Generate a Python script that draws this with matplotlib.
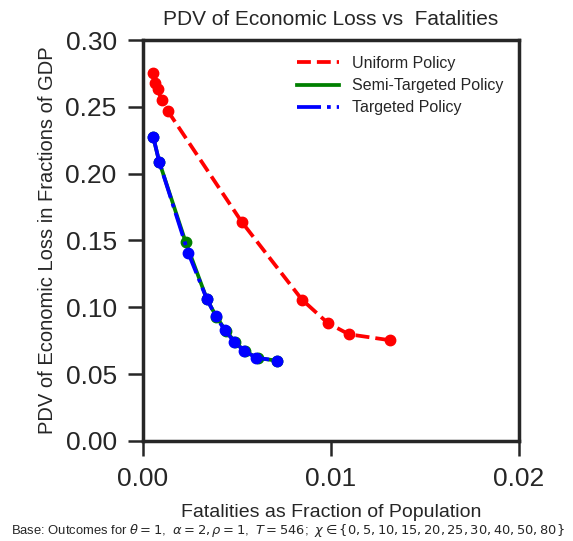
import matplotlib
matplotlib.use("Agg")
import matplotlib.pyplot as plt

plt.rcParams['font.family'] = ['Liberation Sans', 'DejaVu Sans']
plt.rcParams['mathtext.fontset'] = 'dejavusans'

uniform_x = [0.00054, 0.00063, 0.00078, 0.00099, 0.00131, 0.00524, 0.00845, 0.00982, 0.01095, 0.01316]
uniform_y = [0.275, 0.2675, 0.2631, 0.2551, 0.2471, 0.1641, 0.1058, 0.0883, 0.0798, 0.0753]

semi_x = [0.00054, 0.00086, 0.00226, 0.0034, 0.0039, 0.0044, 0.0049, 0.0054, 0.0061, 0.0071]
semi_y = [0.2277, 0.209, 0.1491, 0.106, 0.093, 0.0825, 0.074, 0.0672, 0.0620, 0.0601]

targ_x = [0.00054, 0.00086, 0.0024, 0.0034, 0.00386, 0.00434, 0.00485, 0.00536, 0.00601, 0.00711]
targ_y = [0.2277, 0.209, 0.1409, 0.106, 0.0935, 0.083, 0.0743, 0.0676, 0.0623, 0.0601]

xticks = [0.00, 0.01, 0.02]
yticks = [0.00, 0.05, 0.10, 0.15, 0.20, 0.25, 0.30]

dark = '#262626'

fig = plt.figure(figsize=(5.73, 5.41), dpi=100)
ax = fig.add_axes([0.2496, 0.185, 0.6562, 0.741])

ax.plot(uniform_x, uniform_y, color='red', linestyle='--', linewidth=2.7, label='Uniform Policy')
ax.plot(uniform_x, uniform_y, 'o', color='red', markersize=7.5)
ax.plot(semi_x, semi_y, color='green', linestyle='-', linewidth=2.7, label='Semi-Targeted Policy')
ax.plot(semi_x, semi_y, 'o', color='green', markersize=7.5)
ax.plot(targ_x, targ_y, color='blue', linestyle='-.', linewidth=2.7, label='Targeted Policy')
ax.plot(targ_x, targ_y, 'o', color='blue', markersize=7.5)

ax.set_xlim(0, 0.02)
ax.set_ylim(0, 0.30)
ax.set_xticks(xticks)
ax.set_xticklabels([f"{v:.2f}" for v in xticks])
ax.set_yticks(yticks)
ax.set_yticklabels([f"{v:.2f}" for v in yticks])
ax.tick_params(axis='both', labelsize=19, colors=dark, width=1.8, length=11, pad=8, direction='out')
for s in ax.spines.values():
    s.set_linewidth(2.5)
    s.set_color(dark)

ax.set_title('PDV of Economic Loss vs  Fatalities', fontsize=15, color=dark, pad=11)
ax.set_ylabel('PDV of Economic Loss in Fractions of GDP', fontsize=14.5, color=dark, labelpad=6)
ax.set_xlabel('Fatalities as Fraction of Population', fontsize=14, color=dark, labelpad=9)

leg = ax.legend(loc='upper right', frameon=False, fontsize=11.5, handlelength=2.6,
                labelspacing=0.45, borderaxespad=0.6)
for t in leg.get_texts():
    t.set_color(dark)

fig.text(0.503, 0.003,
         r'Base: Outcomes for $\theta=1$,  $\alpha=2, \rho=1$,  $T=546$;  $\chi \in \{0, 5, 10, 15, 20, 25, 30, 40, 50, 80\}$',
         ha='center', va='bottom', fontsize=9.4, color=dark)

fig.savefig('out.png', dpi=100)
